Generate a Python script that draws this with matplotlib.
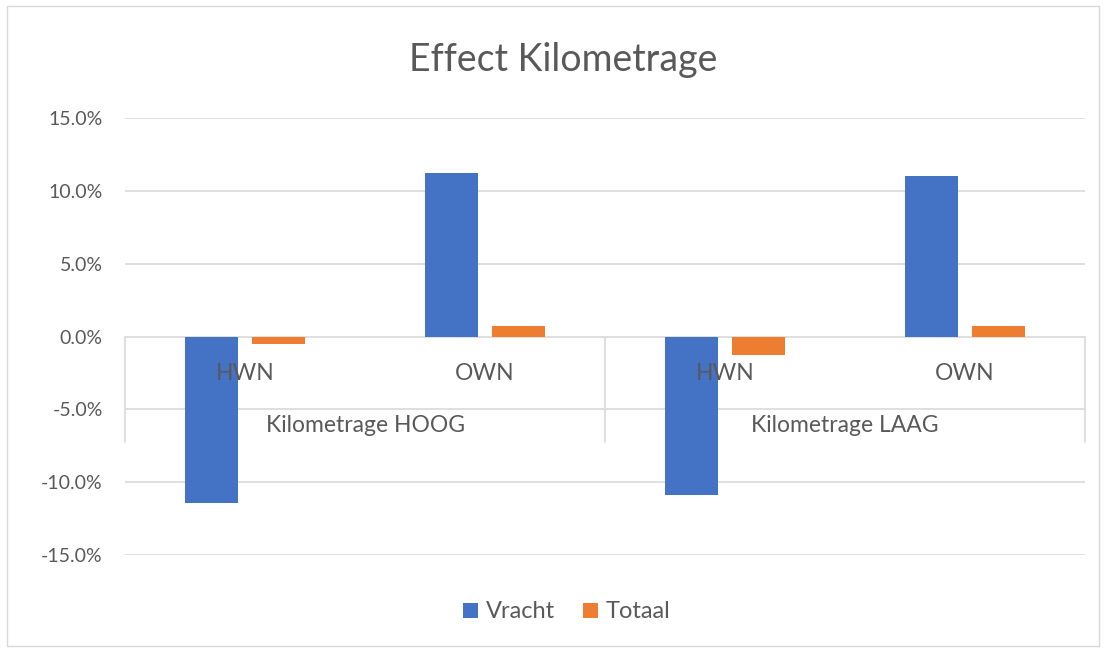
import matplotlib
matplotlib.use("Agg")
import matplotlib.pyplot as plt
import matplotlib.transforms as mtransforms
from matplotlib.patches import Rectangle
import numpy as np

plt.rcParams['font.family'] = ['Lato', 'DejaVu Sans']

title = "Effect Kilometrage"
groups = ["Kilometrage HOOG", "Kilometrage LAAG"]
subcats = ["HWN", "OWN", "HWN", "OWN"]
series_names = ["Vracht", "Totaal"]
vracht = [-11.4, 11.2, -10.9, 11.0]
totaal = [-0.5, 0.7, -1.3, 0.7]
yticks = [-15, -10, -5, 0, 5, 10, 15]

BLUE = "#4472C4"
ORANGE = "#ED7D31"
TXT = "#595959"
GRID = "#D9D9D9"

W, H = 1106, 652
fig = plt.figure(figsize=(W / 100, H / 100), dpi=100)

# chart border
fig.patches.append(Rectangle((7 / W, 6 / H), (1099 - 7) / W, (646 - 6) / H,
                             transform=fig.transFigure, fill=False,
                             edgecolor=GRID, linewidth=1))

left, right = 125, 1085
top, bottom = 118, 555
ax = fig.add_axes([left / W, (H - bottom) / H, (right - left) / W, (bottom - top) / H])

x = np.arange(len(subcats))
bw = 0.22
off = 0.14
ax.bar(x - off, vracht, bw, color=BLUE, label=series_names[0], zorder=3)
ax.bar(x + off, totaal, bw, color=ORANGE, label=series_names[1], zorder=3)

ax.set_xlim(-0.5, len(subcats) - 0.5)
ax.set_ylim(-15, 15)
ax.set_yticks(yticks)
ax.set_yticklabels([f"{v:.1f}%" for v in yticks], fontsize=14, color=TXT)
ax.tick_params(axis='y', length=0, pad=16)
ax.set_xticks([])
for v in yticks:
    ax.axhline(v, color=GRID, linewidth=1.2, zorder=1)
for s in ax.spines.values():
    s.set_visible(False)

# multi-level category axis
trans = mtransforms.blended_transform_factory(ax.transData, ax.transAxes)
y_sub = (bottom - 374) / (bottom - top)
y_grp = (bottom - 425) / (bottom - top)
y_sep = (bottom - 442) / (bottom - top)
for i, lab in enumerate(subcats):
    ax.text(x[i], y_sub, lab, transform=trans, ha='center', va='center',
            fontsize=16.5, color=TXT, zorder=4)
for g, lab in enumerate(groups):
    ax.text(2 * g + 0.5, y_grp, lab, transform=trans, ha='center', va='center',
            fontsize=16.5, color=TXT, zorder=4)
for xs in [-0.5, 1.5, 3.5]:
    ax.plot([xs, xs], [0.5, y_sep], transform=trans, color=GRID, linewidth=1.2,
            clip_on=False, zorder=1)

fig.text(563 / W, (H - 60) / H, title, ha='center', va='center', fontsize=27, color=TXT)

leg = fig.legend(loc='center', bbox_to_anchor=(567 / W, (H - 612) / H), ncol=2,
                 frameon=False, fontsize=17, handlelength=0.6, handleheight=0.6,
                 handletextpad=0.35, columnspacing=1.2)
for t in leg.get_texts():
    t.set_color(TXT)

fig.savefig("out.png", dpi=100)
